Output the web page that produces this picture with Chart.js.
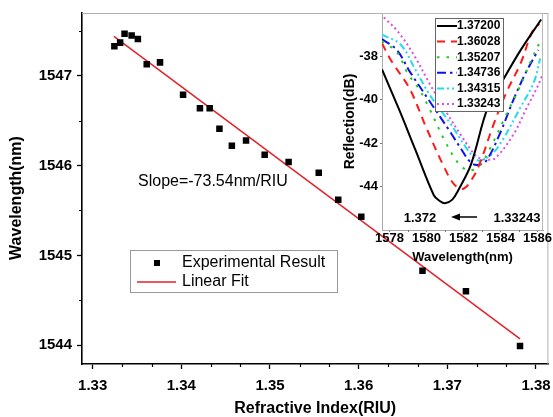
<!DOCTYPE html>
<html lang="en">
<head>
<meta charset="UTF-8">
<title>Wavelength vs refractive index</title>
<style>
  body { margin: 0; background: #fff; }
  #wrap { position: relative; width: 553px; height: 417px; }
  #mainChart { position: absolute; left: 0; top: 0; }
  #insetChart { position: absolute; left: 330px; top: 0; }
</style>
<script src="https://cdn.jsdelivr.net/npm/chart.js"></script>
</head>
<body>
<div id="wrap">
  <canvas id="mainChart" width="553" height="417"></canvas>
  <canvas id="insetChart" width="223" height="270"></canvas>
</div>
<script>
// ---- main plot: dip wavelength vs refractive index ----
const riu = [1.33245, 1.3331, 1.3336, 1.3344, 1.3351, 1.3361, 1.3376, 1.3402, 1.3421, 1.3432, 1.3443,
             1.3457, 1.3473, 1.3494, 1.3521, 1.3555, 1.3577, 1.3603, 1.3672, 1.3721, 1.3782];
const wavelength = [1547.33, 1547.37, 1547.47, 1547.45, 1547.41, 1547.13, 1547.15, 1546.79, 1546.64, 1546.64, 1546.41,
                    1546.22, 1546.28, 1546.12, 1546.04, 1545.92, 1545.62, 1545.43, 1544.83, 1544.60, 1543.99];
const fitRiu = [1.3324, 1.3782];
const fitWavelength = [1547.44, 1544.07];
const riuTicks = [1.33, 1.34, 1.35, 1.36, 1.37, 1.38];
const riuTickLabels = ['1.33', '1.34', '1.35', '1.36', '1.37', '1.38'];
const wlTicks = [1544, 1545, 1546, 1547];
const wlTickLabels = ['1544', '1545', '1546', '1547'];

// ---- inset: reflection spectra ----
const specLabels = ['1.37200', '1.36028', '1.35207', '1.34736', '1.34315', '1.33243'];
const lam137200 = [1577.6, 1578.5, 1579.4, 1580.4, 1580.7, 1581.0, 1581.4, 1581.7, 1582.4, 1583.3, 1584.2, 1585.1, 1586.2];
const ref137200 = [-38.6, -40.4, -42.3, -44.4, -44.65, -44.77, -44.6, -44.2, -43.0, -40.4, -39.0, -37.7, -36.3];
const lam136028 = [1577.6, 1578.1, 1579.1, 1580.0, 1580.9, 1581.5, 1582.0, 1582.5, 1582.9, 1583.6, 1584.3, 1585.1, 1585.7, 1586.1];
const ref136028 = [-37.4, -38.2, -39.5, -41.3, -43.0, -43.9, -44.1, -43.6, -42.9, -41.2, -39.7, -38.3, -36.9, -36.5];
const lam135207 = [1577.6, 1578.4, 1579.0, 1579.6, 1580.1, 1581.0, 1581.7, 1582.25, 1582.8, 1583.4, 1584.25, 1585.1, 1585.6, 1586.2];
const ref135207 = [-37.3, -37.8, -38.8, -39.5, -40.3, -41.9, -42.9, -43.25, -43.1, -42.3, -40.8, -39.3, -38.3, -37.2];
const lam134736 = [1577.6, 1578.4, 1579.1, 1580.2, 1581.3, 1581.9, 1582.35, 1582.7, 1583.2, 1584.0, 1584.7, 1585.4, 1586.05];
const ref134736 = [-37.2, -37.7, -38.7, -40.1, -41.5, -42.3, -42.85, -43.0, -42.85, -41.5, -40.0, -38.7, -37.7];
const lam134315 = [1577.6, 1578.6, 1579.4, 1580.2, 1581.3, 1582.1, 1582.6, 1582.9, 1583.55, 1584.15, 1585.05, 1585.8, 1586.15];
const ref134315 = [-37.0, -37.45, -38.6, -39.8, -41.1, -42.15, -42.7, -42.8, -42.5, -41.8, -40.4, -39.2, -38.1];
const lam133243 = [1577.7, 1578.5, 1579.3, 1580.2, 1581.1, 1582.0, 1582.7, 1583.2, 1583.7, 1584.7, 1585.4, 1586.0, 1586.25];
const ref133243 = [-36.2, -36.9, -37.9, -39.3, -40.6, -41.8, -42.6, -42.75, -42.7, -41.6, -40.4, -39.4, -38.9];
const lamTicks = [1578, 1580, 1582, 1584, 1586];
const lamTickLabels = ['1578', '1580', '1582', '1584', '1586'];
const reflTicks = [-44, -42, -40, -38];
const reflTickLabels = ['-44', '-42', '-40', '-38'];

const FONT = "'Liberation Sans', Arial, sans-serif";
const pts = (xs, ys) => xs.map((x, i) => ({x: x, y: ys[i]}));

// frame on top/right + short minor ticks
const framePlugin = {
  id: 'frame',
  afterDraw(chart, args, o) {
    const {ctx, chartArea: a} = chart;
    ctx.save();
    ctx.strokeStyle = o.color;
    ctx.lineWidth = 1;
    ctx.beginPath();
    ctx.moveTo(a.left, a.top + 0.5); ctx.lineTo(a.right, a.top + 0.5);
    ctx.moveTo(a.right - 0.5, a.top); ctx.lineTo(a.right - 0.5, a.bottom);
    ctx.stroke();
    ctx.strokeStyle = o.tickColor;
    ctx.lineWidth = o.tickWidth;
    ctx.beginPath();
    const sx = chart.scales.x, sy = chart.scales.y;
    if (o.minorX) {
      for (let k = Math.ceil(sx.min / o.minorX - 1e-6); k * o.minorX <= sx.max + 1e-9; k++) {
        if (k % o.everyX === 0) continue;
        const px = Math.round(sx.getPixelForValue(k * o.minorX)) + 0.5;
        ctx.moveTo(px, a.bottom); ctx.lineTo(px, a.bottom + o.len);
      }
    }
    if (o.minorY) {
      for (let k = Math.ceil(sy.min / o.minorY - 1e-6); k * o.minorY <= sy.max + 1e-9; k++) {
        if (k % o.everyY === 0) continue;
        const py = Math.round(sy.getPixelForValue(k * o.minorY)) + 0.5;
        ctx.moveTo(a.left, py); ctx.lineTo(a.left - o.len, py);
      }
    }
    ctx.stroke();
    ctx.restore();
  }
};

// legend box drawn inside the plot
const boxLegendPlugin = {
  id: 'boxLegend',
  afterDraw(chart, args, o) {
    const ctx = chart.ctx;
    ctx.save();
    ctx.fillStyle = '#fff';
    ctx.fillRect(o.left, o.top, o.width, o.height);
    ctx.strokeStyle = o.border;
    ctx.lineWidth = 1;
    ctx.strokeRect(o.left + 0.5, o.top + 0.5, o.width - 1, o.height - 1);
    ctx.font = o.font;
    ctx.textBaseline = 'middle';
    chart.data.datasets.forEach((ds, i) => {
      const y = o.firstRow + i * o.rowHeight;
      if (ds.showLine === false) {
        ctx.fillStyle = ds.backgroundColor;
        ctx.fillRect(o.markerX - 3, y - 3, 6, 6);
      } else {
        ctx.strokeStyle = ds.borderColor;
        ctx.lineWidth = ds.borderWidth;
        ctx.setLineDash(ds.borderDash || []);
        ctx.beginPath();
        ctx.moveTo(o.lineFrom, y); ctx.lineTo(o.lineTo, y);
        ctx.stroke();
        ctx.setLineDash([]);
      }
      ctx.fillStyle = '#000';
      ctx.fillText(ds.label, o.textX, y);
    });
    ctx.restore();
  }
};

// free text (optionally rotated) and arrows
const notesPlugin = {
  id: 'notes',
  afterDraw(chart, args, o) {
    const ctx = chart.ctx;
    ctx.save();
    ctx.fillStyle = '#000';
    ctx.textBaseline = 'middle';
    (o.texts || []).forEach(t => {
      ctx.save();
      ctx.font = t.font;
      ctx.textAlign = t.align;
      ctx.translate(t.x, t.y);
      if (t.rotate) ctx.rotate(t.rotate * Math.PI / 180);
      ctx.fillText(t.text, 0, 0);
      ctx.restore();
    });
    (o.arrows || []).forEach(ar => {
      ctx.strokeStyle = '#000';
      ctx.lineWidth = 1.5;
      ctx.beginPath();
      ctx.moveTo(ar.x1 + 6, ar.y); ctx.lineTo(ar.x2, ar.y);
      ctx.stroke();
      ctx.beginPath();
      ctx.moveTo(ar.x1, ar.y); ctx.lineTo(ar.x1 + 9, ar.y - 3.5); ctx.lineTo(ar.x1 + 9, ar.y + 3.5);
      ctx.closePath();
      ctx.fill();
    });
    ctx.restore();
  }
};

// keep the plot box where the reference has it
const fixX = h => s => { s.height = h; s.paddingLeft = 0; s.paddingRight = 0; };
const fixY = w => s => { s.width = w; s.paddingTop = 0; s.paddingBottom = 0; };

// ---------- main chart ----------
new Chart(document.getElementById('mainChart'), {
  type: 'scatter',
  data: {
    datasets: [
      {
        label: 'Experimental Result',
        data: pts(riu, wavelength),
        showLine: false,
        pointStyle: 'rect',
        pointRadius: 4.6,
        backgroundColor: '#000',
        borderColor: '#000',
        borderWidth: 0
      },
      {
        label: 'Linear Fit',
        data: pts(fitRiu, fitWavelength),
        showLine: true,
        pointRadius: 0,
        borderColor: '#e3222b',
        borderWidth: 1.5
      }
    ]
  },
  options: {
    responsive: false,
    animation: false,
    devicePixelRatio: 1,
    events: [],
    layout: {padding: {top: 13, right: 4, left: 0, bottom: 0}},
    plugins: {
      legend: {display: false},
      tooltip: {enabled: false},
      frame: {color: '#b0b0b0', tickColor: '#000', tickWidth: 1.2, len: 3,
              minorX: 0.01 / 3, everyX: 3, minorY: 0.5, everyY: 2},
      boxLegend: {left: 130, top: 250, width: 208, height: 43, border: '#999',
                  font: '16px ' + FONT, firstRow: 263, rowHeight: 19,
                  markerX: 157, lineFrom: 137, lineTo: 176, textX: 182},
      notes: {texts: [
        {text: 'Slope=-73.54nm/RIU', x: 138, y: 182, align: 'left', font: '16px ' + FONT},
        {text: 'Wavelength(nm)', x: 17, y: 198, align: 'center', rotate: -90, font: 'bold 16px ' + FONT}
      ]}
    },
    scales: {
      x: {
        type: 'linear',
        position: 'bottom',
        min: 1.3288,
        max: 1.3814,
        afterBuildTicks: s => { s.ticks = riuTicks.map(v => ({value: v})); },
        afterFit: fixX(53),
        ticks: {
          callback: (v, i) => riuTickLabels[i],
          font: {family: FONT, size: 15, weight: 'bold'},
          color: '#000', padding: 8, maxRotation: 0, autoSkip: false
        },
        grid: {drawOnChartArea: false, tickLength: 5, tickWidth: 1.3, tickColor: '#000'},
        border: {color: '#000', width: 1.6},
        title: {display: true, text: 'Refractive Index(RIU)', color: '#000',
                font: {family: FONT, size: 16, weight: 'bold', lineHeight: 1}, padding: {top: 0, bottom: 0}}
      },
      y: {
        type: 'linear',
        min: 1543.79,
        max: 1547.70,
        afterBuildTicks: s => { s.ticks = wlTicks.map(v => ({value: v})); },
        afterFit: fixY(82),
        ticks: {
          callback: (v, i) => wlTickLabels[i],
          font: {family: FONT, size: 15, weight: 'bold'},
          color: '#000', padding: 5
        },
        grid: {drawOnChartArea: false, tickLength: 5, tickWidth: 1.3, tickColor: '#000'},
        border: {color: '#000', width: 1.6},
        title: {display: false}
      }
    }
  },
  plugins: [framePlugin, boxLegendPlugin, notesPlugin]
});

// ---------- inset chart ----------
const insetSeries = [
  {lam: lam137200, ref: ref137200, color: '#000000', dash: []},
  {lam: lam136028, ref: ref136028, color: '#ff1a1a', dash: [8, 6]},
  {lam: lam135207, ref: ref135207, color: '#22cc22', dash: [2.5, 7]},
  {lam: lam134736, ref: ref134736, color: '#1010ee', dash: [9, 4, 2.5, 4]},
  {lam: lam134315, ref: ref134315, color: '#22ddee', dash: [7, 3, 2, 3, 2, 3]},
  {lam: lam133243, ref: ref133243, color: '#e04ce8', dash: [2, 3]}
];

new Chart(document.getElementById('insetChart'), {
  type: 'scatter',
  data: {
    datasets: insetSeries.map((s, i) => ({
      label: specLabels[i],
      data: pts(s.lam, s.ref),
      showLine: true,
      pointRadius: 0,
      borderColor: s.color,
      borderWidth: 2,
      borderDash: s.dash,
      tension: 0.35
    }))
  },
  options: {
    responsive: false,
    animation: false,
    devicePixelRatio: 1,
    events: [],
    layout: {padding: {top: 13, right: 10, left: 0, bottom: 0}},
    plugins: {
      legend: {display: false},
      tooltip: {enabled: false},
      frame: {color: '#b8b8b8', tickColor: '#777', tickWidth: 1, len: 2, minorX: 1, everyX: 2},
      boxLegend: {left: 105, top: 18, width: 69, height: 94, border: '#666',
                  font: 'bold 12px ' + FONT, firstRow: 26, rowHeight: 15.6,
                  lineFrom: 107, lineTo: 127, textX: 127},
      notes: {
        texts: [
          {text: '1.372', x: 90, y: 218, align: 'center', font: 'bold 13px ' + FONT},
          {text: '1.33243', x: 187, y: 218, align: 'center', font: 'bold 13px ' + FONT}
        ],
        arrows: [{x1: 121, x2: 147, y: 217}]
      }
    },
    scales: {
      x: {
        type: 'linear',
        min: 1577.6,
        max: 1586.3,
        afterBuildTicks: s => { s.ticks = lamTicks.map(v => ({value: v})); },
        afterFit: fixX(40),
        ticks: {
          callback: (v, i) => lamTickLabels[i],
          font: {family: FONT, size: 13, weight: 'bold', lineHeight: 1},
          color: '#000', padding: 0, maxRotation: 0, autoSkip: false
        },
        grid: {drawOnChartArea: false, tickLength: 2, tickColor: '#777'},
        border: {color: '#aaa', width: 1},
        title: {display: true, text: 'Wavelength(nm)', color: '#000',
                font: {family: FONT, size: 13, weight: 'bold', lineHeight: 1}, padding: {top: 0, bottom: 6}}
      },
      y: {
        type: 'linear',
        min: -46,
        max: -36,
        afterBuildTicks: s => { s.ticks = reflTicks.map(v => ({value: v})); },
        afterFit: fixY(52),
        ticks: {
          callback: (v, i) => reflTickLabels[i],
          font: {family: FONT, size: 13, weight: 'bold'},
          color: '#000', padding: 2
        },
        grid: {drawOnChartArea: false, tickLength: 2, tickColor: '#777'},
        border: {color: '#aaa', width: 1},
        title: {display: true, text: 'Reflection(dB)', color: '#000',
                font: {family: FONT, size: 14, weight: 'bold', lineHeight: 1}, padding: {top: 13, bottom: 0}}
      }
    }
  },
  plugins: [framePlugin, boxLegendPlugin, notesPlugin]
});
</script>
</body>
</html>
